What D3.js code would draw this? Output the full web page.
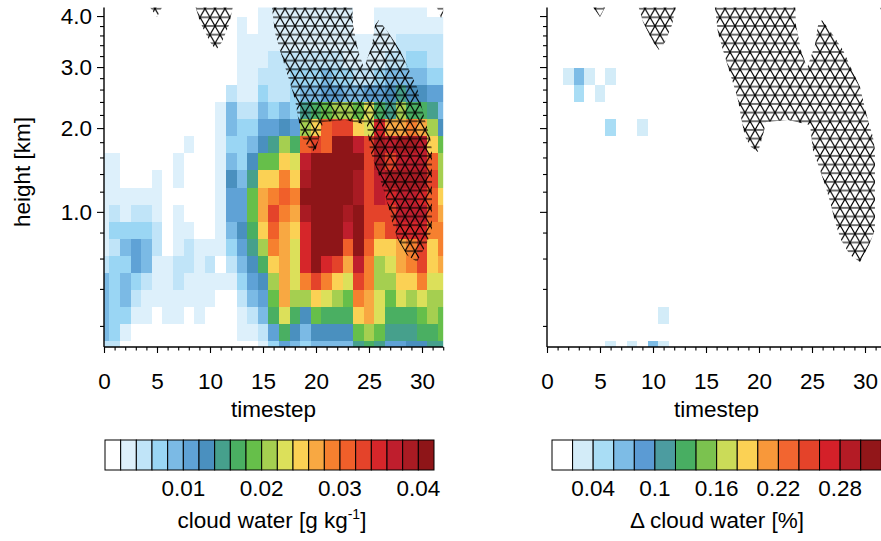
<!DOCTYPE html>
<html>
<head>
<meta charset="utf-8">
<script src="https://cdnjs.cloudflare.com/ajax/libs/d3/7.8.5/d3.min.js"></script>
<style>
html,body{margin:0;padding:0;background:#fff;}
svg{display:block;}
text{font-family:"Liberation Sans",Arial,Helvetica,sans-serif;fill:#000;}
</style>
</head>
<body>
<svg id="chart" width="881" height="541"></svg>
<script>
// ================= DATA =================
const timesteps = [0,1,2,3,4,5,6,7,8,9,10,11,12,13,14,15,16,17,18,19,20,21,22,23,24,25,26,27,28,29,30,31,32];
// height (km) of each model level (level index 0 .. 20)
const modelLevelHeightsKm = [0.06,0.165,0.256,0.345,0.444,0.558,0.683,0.819,0.988,1.151,1.341,1.542,1.761,2.003,2.263,2.526,2.825,3.134,3.447,3.81,4.15];

// cloud water in 1e-3 g/kg; one row per model level, from level 20 (top) down to level 0
const cloudWaterTopDown = [
  [0,0,0,0,0,0,0,0,0,0,0,0,0,0,0,3,3,3,3,3,3,3,3,3,0,0,3,3,3,3,3,0,0],
  [0,0,0,0,0,0,0,0,0,0,0,0,0,3,0,3,3,3,3,3,3,3,3,3,0,0,3,3,3,3,3,3,3],
  [0,0,0,0,0,0,0,0,0,0,0,0,0,3,3,3,3,3,3,3,3,3,3,3,3,3,3,3,5,5,5,5,5],
  [0,0,0,0,0,0,0,0,0,0,0,0,0,3,3,3,5,5,5,5,5,5,5,3,3,3,3,5,5,7,7,5,5],
  [0,0,0,0,0,0,0,0,0,0,0,0,0,3,3,5,5,5,7,7,7,9,7,7,5,5,7,9,9,9,9,7,7],
  [0,0,0,0,0,0,0,0,0,0,0,0,5,3,3,7,5,5,7,9,9,11,11,9,9,11,11,13,15,13,13,11,11],
  [0,0,0,0,0,0,0,0,0,0,0,3,9,5,5,9,7,9,7,15,17,19,21,21,19,23,17,15,21,17,17,15,9],
  [0,0,0,0,0,0,0,0,0,0,0,3,9,7,7,11,11,13,11,21,25,31,33,33,25,23,35,27,27,29,27,21,13],
  [0,0,0,0,0,0,0,0,3,0,0,3,7,7,9,13,15,21,17,31,33,31,42,42,37,33,39,37,39,39,37,25,19],
  [3,3,0,0,0,0,0,3,0,0,0,3,9,7,13,19,19,25,23,37,42,42,42,42,42,33,39,33,37,37,37,31,21],
  [3,3,0,0,0,3,0,3,0,0,0,3,13,9,15,25,25,29,25,39,42,42,42,42,39,33,37,39,39,39,39,33,21],
  [3,3,3,3,3,3,0,0,0,0,0,3,11,11,19,27,29,31,29,42,42,42,42,42,39,33,37,35,37,37,35,31,25],
  [3,5,3,5,5,3,0,3,0,0,0,3,11,11,19,27,33,29,27,39,42,42,42,39,42,33,33,33,37,37,37,31,27],
  [3,7,7,7,7,5,0,3,3,0,0,3,9,13,17,25,31,27,25,35,42,42,42,37,42,33,29,33,35,35,35,29,29],
  [3,5,9,11,9,5,0,3,5,3,3,3,7,11,15,21,29,27,23,35,42,42,42,31,42,31,25,25,27,29,33,25,29],
  [5,7,7,11,9,3,3,5,5,3,5,0,5,9,13,17,25,27,23,35,42,35,33,27,37,29,21,23,27,29,33,25,27],
  [9,7,9,7,5,3,3,5,3,3,3,3,3,7,11,13,21,27,23,29,33,29,25,23,33,29,21,21,25,25,29,23,23],
  [9,7,9,5,3,3,3,3,3,3,3,0,0,5,9,11,19,27,21,21,25,23,21,19,29,27,23,19,23,21,23,21,21],
  [9,7,7,3,3,0,3,3,0,3,0,0,0,3,5,9,17,23,17,13,19,17,17,17,25,27,23,17,17,17,19,21,19],
  [9,7,3,0,0,0,0,0,0,0,0,0,0,3,3,5,11,17,13,9,13,13,13,13,19,21,19,15,15,15,17,17,19],
  [5,5,0,0,0,0,0,0,0,0,0,0,0,0,0,3,7,11,9,7,9,9,9,9,15,17,15,11,11,13,13,15,15]
];
const cwLevels = [2,4,6,8,10,12,14,16,18,20,22,24,26,28,30,32,34,36,38,40];
const cwColors = ["#FFFFFF","#DDF0FB","#C0E4F8","#9AD6F4","#7BBAE5","#5FA2D6","#4A90BF","#46A08C","#4AAF62","#66BF4A","#A5CF50","#DCE05A","#FBD154","#F8A842","#F6802F","#F05F2A","#E4432A","#D6262A","#BF1E2D","#A91B23","#8E1518"];
const cwLabelValues = [10,20,30,40];
const cwLabels = ["0.01","0.02","0.03","0.04"];

// delta cloud water (%), non-zero cells only
const deltaTime  = [2,3,4,6,3,5,6,9,11,6,8,10,11];
const deltaLevel = [16,16,16,16,15,15,13,13,2,0,0,0,0];
const deltaValue = [0.03,0.07,0.03,0.03,0.05,0.03,0.05,0.03,0.03,0.03,0.03,0.07,0.03];
const deltaLevels = [0.02,0.04,0.06,0.08,0.10,0.12,0.14,0.16,0.18,0.20,0.22,0.24,0.26,0.28,0.30];
const deltaColors = ["#FFFFFF","#D3ECF8","#A9DDF5","#7DBCE6","#5B9BD4","#4C9CA0","#48AE62","#7BC24F","#CBDB58","#FBD154","#F8983A","#F26530","#E4432A","#D42029","#B41B25","#921619"];
const deltaLabelValues = [0.04,0.10,0.16,0.22,0.28];
const deltaLabels = ["0.04","0.1","0.16","0.22","0.28"];

const heightMajor = [1.0,2.0,3.0,4.0];
const heightMajorLabels = ["1.0","2.0","3.0","4.0"];
const heightMinor = [0.2,0.4,0.6,0.8,1.2,1.4,1.6,1.8,2.2,2.4,2.6,2.8,3.2,3.4,3.6,3.8];
const timeMajor = [0,5,10,15,20,25,30];
const timeMajorLabels = ["0","5","10","15","20","25","30"];

// significance regions: polygons of [timestep, model-level index]
const hatchPolygons = [
  [[3.96,20.4],[5.75,20.4],[5.0,19.5]],
  [[8.49,20.4],[12.26,20.4],[11.79,19.03],[11.13,18.04],[10.57,17.57],[10.0,18.04],[9.06,19.21]],
  [[15.75,20.4],[23.4,20.4],[23.49,19.03],[23.96,17.57],[24.53,16.51],[25.28,17.86],[25.57,19.03],[25.94,19.33],
   [26.98,18.45],[27.92,17.57],[28.87,16.28],[29.53,15.4],[29.81,14.63],[30.28,13.46],[30.75,12.46],[30.94,11.7],
   [30.94,7.01],[30.38,6.13],[29.53,5.13],[28.58,5.54],[27.74,6.42],[27.17,7.48],[26.79,8.48],[26.32,9.47],
   [25.75,10.53],[25.09,11.7],[24.81,13.17],[22.74,13.46],[20.66,13.34],[20.38,12.58],[19.91,11.59],[19.25,11.88],
   [18.68,12.46],[18.3,13.64],[18.02,14.63],[17.55,15.63],[17.08,16.57],[16.6,17.57],[16.13,18.56],[15.85,20.03]],
  [[31.2,20.4],[32.4,20.4],[31.8,19.44]]
];

// ================= DRAW =================
const FS = 22.5;
const svg = d3.select("#chart");
const plotTop = 7.5, plotBottom = 347;
const yU = d3.scaleLinear().domain([0.148, 20.06]).range([plotBottom, plotTop]);
const yH = d3.scaleLinear().domain(modelLevelHeightsKm).range(modelLevelHeightsKm.map((h, i) => yU(i)));
const xLeft = d3.scaleLinear().domain([0, 32]).range([104, 443.2]);
const xRight = d3.scaleLinear().domain([0, 32]).range([547, 886.2]);
const cwColor = d3.scaleThreshold().domain(cwLevels).range(cwColors);
const deltaColor = d3.scaleThreshold().domain(deltaLevels).range(deltaColors);

const defs = svg.append("defs");
// triangular-lattice hatch pattern
const side = 10, rowH = side * Math.sqrt(3) / 2;
const pat = defs.append("pattern").attr("id", "tri").attr("patternUnits", "userSpaceOnUse")
  .attr("width", side).attr("height", 2 * rowH);
[[0,0,side,0],[0,rowH,side,rowH],[0,2*rowH,side,2*rowH],[0,0,side,2*rowH],[side,0,0,2*rowH]].forEach(l => {
  pat.append("line").attr("x1", l[0]).attr("y1", l[1]).attr("x2", l[2]).attr("y2", l[3])
    .attr("stroke", "#000").attr("stroke-width", 1.1);
});

function panel(id, x, cells, colorFn, showYLabels) {
  const [x0, x1] = x.range();
  defs.append("clipPath").attr("id", "clip" + id).append("rect")
    .attr("x", x0).attr("y", plotTop).attr("width", x1 - x0).attr("height", plotBottom - plotTop);
  const g = svg.append("g");
  const cg = g.append("g").attr("clip-path", `url(#clip${id})`);
  cg.selectAll("rect.cell").data(cells).join("rect").attr("class", "cell")
    .attr("x", d => x(d.t - 0.5)).attr("width", d => x(d.t + 0.5) - x(d.t - 0.5))
    .attr("y", d => yU(d.level + 0.5)).attr("height", d => yU(d.level - 0.5) - yU(d.level + 0.5))
    .attr("fill", d => colorFn(d.v)).attr("shape-rendering", "crispEdges");
  const line = d3.line().x(d => x(d[0])).y(d => yU(d[1]));
  cg.selectAll("path.hatch").data(hatchPolygons).join("path").attr("class", "hatch")
    .attr("d", d => line(d) + "Z").attr("fill", "url(#tri)");

  // axes
  const yAxisMajor = d3.axisLeft(yH).tickValues(heightMajor).tickSize(7).tickPadding(5)
    .tickFormat((d, i) => showYLabels ? heightMajorLabels[i] : "");
  const yAxisMinor = d3.axisLeft(yH).tickValues(heightMinor).tickSize(4).tickFormat("");
  const xAxisMajor = d3.axisBottom(x).tickValues(timeMajor).tickSize(6).tickPadding(20)
    .tickFormat((d, i) => timeMajorLabels[i]);
  const xAxisMinor = d3.axisBottom(x).tickValues(timesteps).tickSize(3.5).tickFormat("");
  [[yAxisMinor, `translate(${x0},0)`], [yAxisMajor, `translate(${x0},0)`],
   [xAxisMinor, `translate(0,${plotBottom})`], [xAxisMajor, `translate(0,${plotBottom})`]].forEach(([ax, tr]) => {
    const a = g.append("g").attr("transform", tr).call(ax);
    a.attr("font-family", null).attr("font-size", null);
    a.select(".domain").remove();
    a.selectAll("line").attr("stroke", "#000").attr("stroke-width", 1.1);
    a.selectAll("text").attr("font-size", FS).attr("fill", "#000");
  });
  g.append("line").attr("x1", x0).attr("x2", x0).attr("y1", plotTop).attr("y2", plotBottom)
    .attr("stroke", "#000").attr("stroke-width", 1.4);
  g.append("line").attr("x1", x0).attr("x2", x1).attr("y1", plotBottom).attr("y2", plotBottom)
    .attr("stroke", "#000").attr("stroke-width", 1.4);
  g.append("text").attr("x", (x0 + x1) / 2).attr("y", 417).attr("text-anchor", "middle")
    .attr("font-size", FS).text("timestep");
}

const cwCells = [];
cloudWaterTopDown.forEach((row, i) => row.forEach((v, t) => cwCells.push({t: timesteps[t], level: 20 - i, v})));
const deltaCells = [];
timesteps.forEach(t => modelLevelHeightsKm.forEach((h, level) => deltaCells.push({t, level, v: 0})));
deltaTime.forEach((t, i) => { deltaCells.find(c => c.t === t && c.level === deltaLevel[i]).v = deltaValue[i]; });

panel("L", xLeft, cwCells, cwColor, true);
panel("R", xRight, deltaCells, deltaColor, false);

svg.append("text").attr("transform", "translate(30,172) rotate(-90)").attr("text-anchor", "middle")
  .attr("font-size", FS).text("height [km]");

// colour bars
function colorbar(x0, x1, colors, levels, labelValues, labels) {
  const cb = d3.scaleLinear().domain([0, colors.length]).range([x0, x1]);
  const g = svg.append("g");
  g.selectAll("rect").data(colors).join("rect")
    .attr("x", (d, i) => cb(i)).attr("width", (d, i) => cb(i + 1) - cb(i))
    .attr("y", 440).attr("height", 30).attr("fill", d => d)
    .attr("stroke", "#000").attr("stroke-width", 1);
  g.selectAll("text").data(labelValues).join("text")
    .attr("x", d => cb(levels.indexOf(d) + 1)).attr("y", 496).attr("text-anchor", "middle")
    .attr("font-size", FS).text((d, i) => labels[i]);
}
colorbar(105, 434, cwColors, cwLevels, cwLabelValues, cwLabels);
colorbar(552, 881.3, deltaColors, deltaLevels, deltaLabelValues, deltaLabels);

const t1 = svg.append("text").attr("x", 272).attr("y", 528).attr("text-anchor", "middle").attr("font-size", FS);
t1.append("tspan").text("cloud water [g kg");
t1.append("tspan").attr("dy", -9).attr("font-size", 14).text("-1");
t1.append("tspan").attr("dy", 9).text("]");
svg.append("text").attr("x", 717).attr("y", 528).attr("text-anchor", "middle").attr("font-size", FS)
  .text("\u0394 cloud water [%]");
</script>
</body>
</html>
